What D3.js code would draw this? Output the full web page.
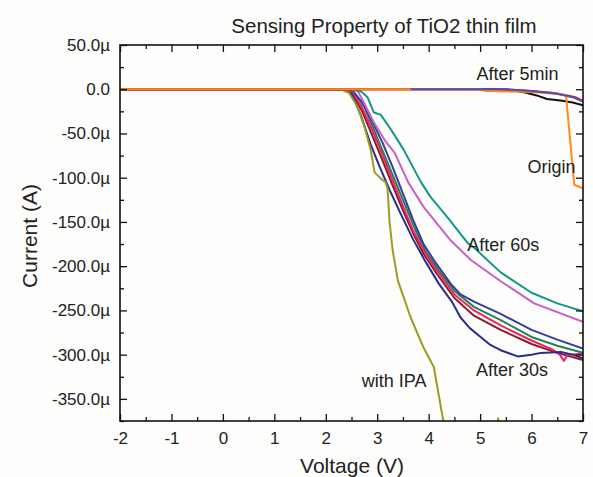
<!DOCTYPE html>
<html>
<head>
<meta charset="utf-8">
<script src="https://cdn.jsdelivr.net/npm/d3@7"></script>
<style>
  body { margin: 0; background: #fdfdfc; }
  text { font-family: "Liberation Sans", Arial, sans-serif; fill: #222; }
</style>
</head>
<body>
<div id="chart"></div>
<script>
// Axis tick values
var xTicks = [-2, -1, 0, 1, 2, 3, 4, 5, 6, 7];
var yTicks = [-350, -300, -250, -200, -150, -100, -50, 0, 50];

// Curves: [voltage (V), current (uA)]
var withIPA = [[-2,0],[2.3,0],[2.45,-4],[2.6,-18],[2.75,-42],[2.87,-68],[2.95,-94],[3.07,-101],[3.16,-105],[3.2,-112],[3.24,-150],[3.3,-182],[3.4,-216],[3.65,-258],[3.9,-292],[4.1,-314],[4.3,-380],[5.3,-400],[5.35,-372],[5.4,-400]];
var after60a = [[-2,0],[2.55,0],[2.7,-3],[2.81,-9],[2.93,-26],[3.07,-29],[3.26,-45],[3.51,-68],[3.85,-105],[4.04,-122],[4.37,-145],[4.76,-174],[4.88,-179],[5.4,-207],[6.0,-230],[6.5,-242],[7,-251]];
var after60b = [[-2,0],[2.5,0],[2.62,-2],[2.74,-15],[2.93,-37],[3.15,-58],[3.34,-72],[3.6,-105],[3.9,-133],[4.43,-171],[4.82,-193],[5.4,-217],[6.05,-242],[7,-263]];
var after30 = [[-2,0],[2.2,0],[2.35,-1],[2.5,-5],[2.68,-29],[2.87,-62],[3.05,-88],[3.25,-115],[3.45,-140],[3.7,-170],[3.95,-196],[4.2,-220],[4.45,-240],[4.62,-258],[4.8,-270],[5.01,-280],[5.2,-289],[5.4,-295],[5.73,-302],[6.0,-300],[6.18,-298],[6.57,-297],[6.8,-300],[7,-304]];
var blueRun = [[-2,0],[2.3,0],[2.5,-2],[2.7,-14],[2.9,-36],[3.1,-60],[3.3,-88],[3.5,-118],[3.7,-148],[3.9,-175],[4.1,-193],[4.43,-220],[4.62,-232],[4.88,-240],[5.4,-254],[6.0,-272],[6.5,-283],[7,-293]];
var greenRun = [[-2,0],[2.35,0],[2.55,-3],[2.75,-20],[2.95,-48],[3.15,-76],[3.35,-104],[3.55,-132],[3.75,-160],[3.95,-184],[4.2,-205],[4.5,-228],[4.88,-246],[5.4,-261],[6.0,-280],[6.5,-290],[7,-298]];
var pinkRun = [[-2,0],[2.3,0],[2.5,-3],[2.7,-20],[2.9,-46],[3.1,-74],[3.3,-103],[3.5,-132],[3.7,-160],[3.9,-182],[4.15,-204],[4.5,-232],[4.88,-250],[5.4,-267],[6.0,-284],[6.4,-294],[6.55,-300],[6.63,-307],[6.7,-300],[7,-299]];
var darkRedRun = [[-2,0],[2.3,0],[2.5,-4],[2.7,-24],[2.9,-52],[3.1,-80],[3.3,-109],[3.5,-137],[3.7,-163],[3.9,-186],[4.15,-208],[4.5,-236],[4.88,-256],[5.4,-272],[6.0,-288],[6.5,-298],[7,-306]];
var blackRun = [[-2,0],[5.3,0],[5.6,-1],[5.9,-4],[6.1,-7],[6.3,-11],[6.6,-13],[6.8,-15],[7,-18]];
var redRun = [[-2,0],[5.5,0],[6.0,-2],[6.4,-4],[6.7,-7],[6.85,-9],[7,-13]];
var origin = [[-2,0],[5.0,0],[5.1,-2],[6.0,-3],[6.5,-5],[6.67,-7],[6.83,-108],[7,-112]];
var after5min = [[3.65,0],[5.5,0],[6.0,-2],[6.5,-5],[6.8,-9],[7,-14]];

var series = [
  {data: darkRedRun, color: "#8b1c22"},
  {data: greenRun, color: "#1b8a45"},
  {data: blueRun, color: "#3a3aa6"},
  {data: pinkRun, color: "#ee1f6e"},
  {data: after30, color: "#2b2d8e"},
  {data: after60b, color: "#c95fc4"},
  {data: after60a, color: "#139689"},
  {data: withIPA, color: "#9c9c22"},
  {data: blackRun, color: "#111111"},
  {data: redRun, color: "#e41e26"},
  {data: origin, color: "#ff8a1e"},
  {data: after5min, color: "#5050b4"}
];

var labels = [
  {text: "After 5min", v: 4.93, i: 11},
  {text: "Origin", v: 5.92, i: -95},
  {text: "After 60s", v: 4.75, i: -183},
  {text: "After 30s", v: 4.92, i: -324},
  {text: "with IPA", v: 2.7, i: -337}
];

var margin = {top: 45, right: 10, bottom: 56, left: 120},
    width = 583 - margin.left,
    height = 421 - margin.top;

var svg = d3.select("#chart").append("svg")
    .attr("width", 593)
    .attr("height", 477);

var g = svg.append("g")
    .attr("transform", "translate(" + margin.left + "," + margin.top + ")");

var x = d3.scaleLinear().domain([-2, 7]).range([0, width]);
var y = d3.scaleLinear().domain([-375, 50]).range([height, 0]);

g.append("clipPath").attr("id", "clip")
  .append("rect").attr("width", width).attr("height", height);

var line = d3.line()
    .x(function(d) { return x(d[0]); })
    .y(function(d) { return y(d[1]); });

g.append("g").attr("clip-path", "url(#clip)")
  .selectAll("path")
  .data(series)
  .enter().append("path")
    .attr("d", function(d) { return line(d.data); })
    .attr("fill", "none")
    .attr("stroke", function(d) { return d.color; })
    .attr("stroke-width", 2)
    .attr("stroke-linejoin", "round");

// Frame with inward ticks on all sides
var xMinor = d3.range(-1.5, 7, 1);
var yMinor = d3.range(-375, 50, 50);

function tickStyle(sel) {
  sel.select(".domain").remove();
  sel.selectAll("line").attr("stroke", "#111").attr("stroke-width", 1.3);
}

g.append("g").attr("transform", "translate(0," + height + ")")
  .call(d3.axisBottom(x).tickValues(xTicks).tickSize(-7).tickPadding(11).tickFormat(function(d) { return d; }))
  .call(tickStyle)
  .selectAll("text").style("font-size", "17px").attr("fill", "#222").style("font-family", "Liberation Sans, Arial, sans-serif");
g.append("g").attr("transform", "translate(0," + height + ")")
  .call(d3.axisBottom(x).tickValues(xMinor).tickSize(-4).tickFormat(""))
  .call(tickStyle);
g.append("g")
  .call(d3.axisTop(x).tickValues(xTicks).tickSize(-7).tickFormat(""))
  .call(tickStyle);
g.append("g")
  .call(d3.axisTop(x).tickValues(xMinor).tickSize(-4).tickFormat(""))
  .call(tickStyle);

g.append("g")
  .call(d3.axisLeft(y).tickValues(yTicks).tickSize(-7).tickPadding(10)
    .tickFormat(function(d) { return d === 0 ? "0.0" : d + ".0\u00b5"; }))
  .call(tickStyle)
  .selectAll("text").style("font-size", "17px").attr("fill", "#222").style("font-family", "Liberation Sans, Arial, sans-serif");
g.append("g")
  .call(d3.axisLeft(y).tickValues(yMinor).tickSize(-4).tickFormat(""))
  .call(tickStyle);
g.append("g").attr("transform", "translate(" + width + ",0)")
  .call(d3.axisRight(y).tickValues(yTicks).tickSize(-7).tickFormat(""))
  .call(tickStyle);
g.append("g").attr("transform", "translate(" + width + ",0)")
  .call(d3.axisRight(y).tickValues(yMinor).tickSize(-4).tickFormat(""))
  .call(tickStyle);

g.append("rect")
  .attr("width", width).attr("height", height)
  .attr("fill", "none").attr("stroke", "#111").attr("stroke-width", 1.6);

// Curve labels
g.selectAll(".lbl")
  .data(labels)
  .enter().append("text")
    .attr("class", "lbl")
    .attr("x", function(d) { return x(d.v); })
    .attr("y", function(d) { return y(d.i); })
    .style("font-size", "18px")
    .attr("fill", "#333")
    .text(function(d) { return d.text; });

// Titles
svg.append("text")
  .attr("x", 384).attr("y", 33)
  .attr("text-anchor", "middle")
  .style("font-size", "20.5px")
  .text("Sensing Property of TiO2 thin film");

svg.append("text")
  .attr("x", 352).attr("y", 473)
  .attr("text-anchor", "middle")
  .style("font-size", "21px")
  .text("Voltage (V)");

svg.append("text")
  .attr("transform", "rotate(-90)")
  .attr("x", -236).attr("y", 37)
  .attr("text-anchor", "middle")
  .style("font-size", "21px")
  .text("Current (A)");
</script>
</body>
</html>
